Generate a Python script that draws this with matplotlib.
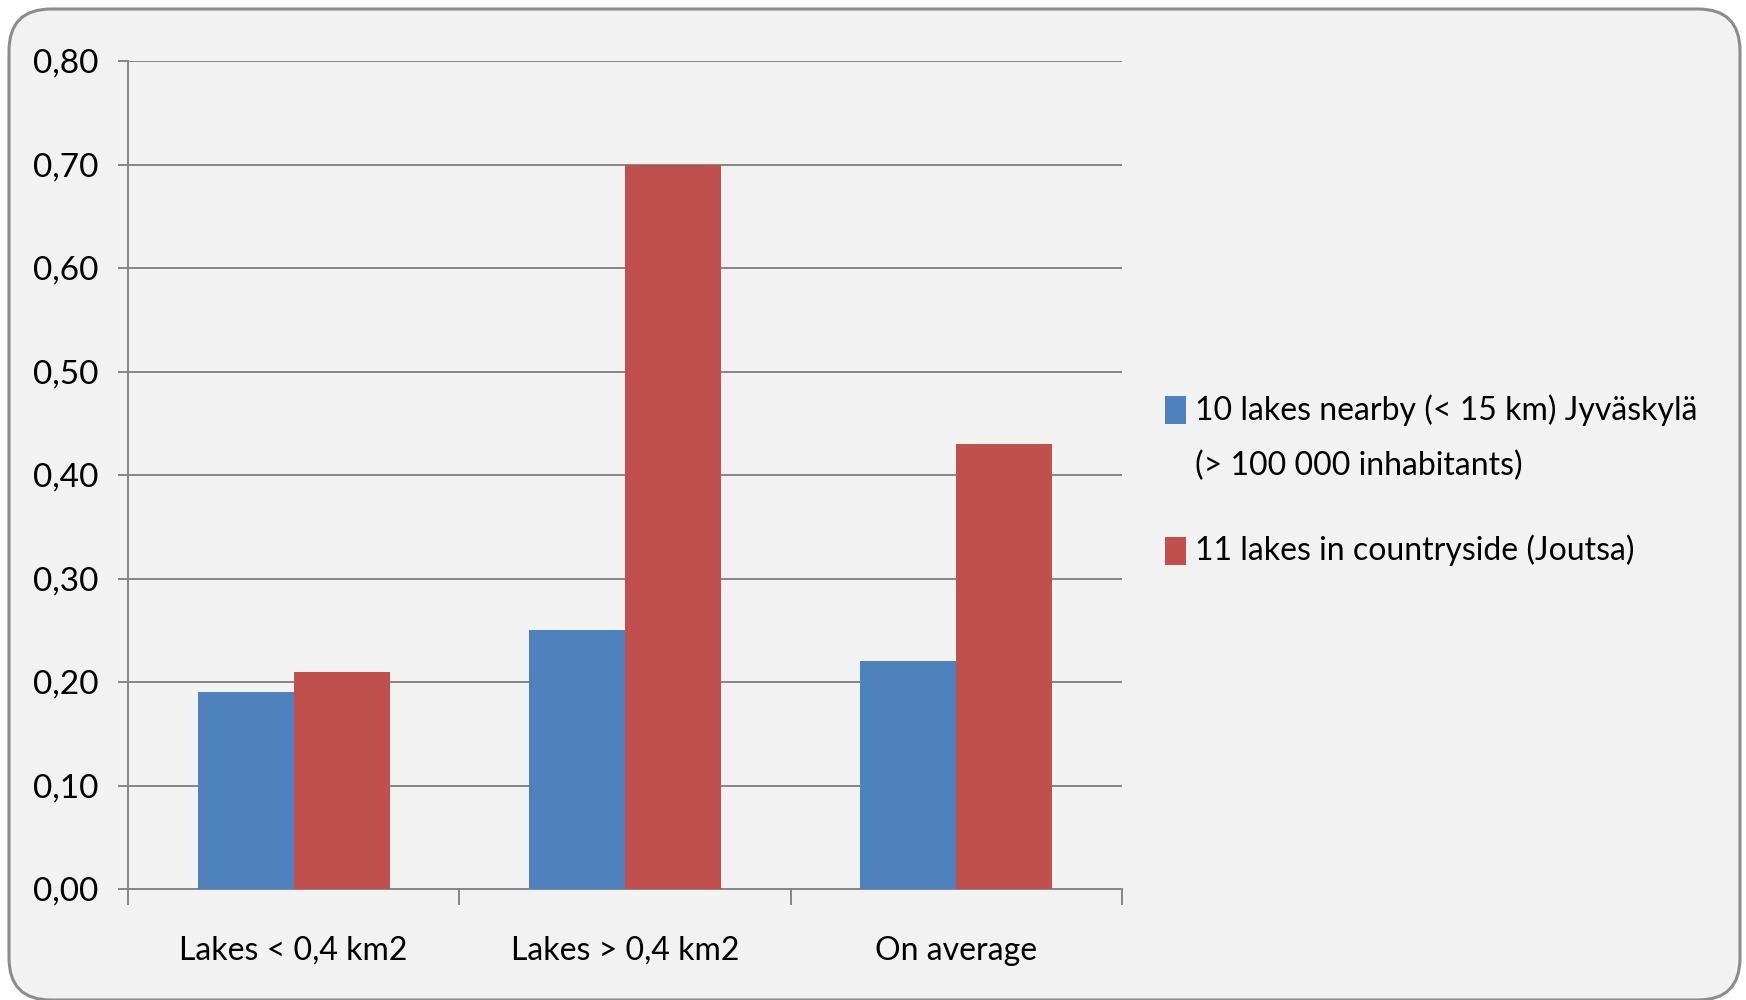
import numpy as np
import matplotlib.pyplot as plt
import matplotlib.patches as mpatches
from matplotlib.transforms import IdentityTransform

plt.rcParams['font.family'] = ['Lato', 'DejaVu Sans']

# data
categories = ['Lakes < 0,4 km2', 'Lakes > 0,4 km2', 'On average']
series_names = ['10 lakes nearby (< 15 km) Jyväskylä\n(> 100 000 inhabitants)',
                '11 lakes in countryside (Joutsa)']
near_city = [0.19, 0.25, 0.22]
countryside = [0.21, 0.70, 0.43]
y_ticks = [0.0, 0.1, 0.2, 0.3, 0.4, 0.5, 0.6, 0.7, 0.8]

blue = '#4f81bd'
red = '#c0504d'
grid_col = '#868686'
fs = 23

fig = plt.figure(figsize=(17.46, 10), dpi=100)
fig.patch.set_facecolor('white')

# rounded frame round the whole chart (pixel coords), bottom edge runs off the image
frame = mpatches.FancyBboxPatch((9, 0), 1731, 991,
                                boxstyle='round,pad=0,rounding_size=42',
                                transform=IdentityTransform(),
                                facecolor='#f2f2f2', edgecolor='#8c8c8c',
                                linewidth=2.2, zorder=-5)
fig.patches.append(frame)

ax = fig.add_axes([0.0733, 0.111, 0.5693, 0.828])
ax.set_facecolor('none')

x = np.arange(len(categories))
w = 0.29
ax.bar(x - w / 2, near_city, w, color=blue, zorder=3)
ax.bar(x + w / 2, countryside, w, color=red, zorder=3)

ax.set_xlim(-0.5, 2.5)
ax.set_ylim(0, 0.8)
ax.set_yticks(y_ticks)
ax.set_yticklabels([f'{v:.2f}'.replace('.', ',') for v in y_ticks])
ax.set_xticks(x)
ax.set_xticklabels(categories)
ax.set_xticks([-0.5, 0.5, 1.5, 2.5], minor=True)

ax.grid(axis='y', color=grid_col, linewidth=1.4, zorder=1)
ax.set_axisbelow(True)
for s in ['top', 'right']:
    ax.spines[s].set_visible(False)
for s in ['left', 'bottom']:
    ax.spines[s].set_color(grid_col)
    ax.spines[s].set_linewidth(1.4)

ax.tick_params(axis='y', length=7.5, width=1.4, color=grid_col, labelsize=24, pad=14)
ax.tick_params(axis='x', which='major', bottom=False, labelsize=fs, pad=30)
ax.tick_params(axis='x', which='minor', length=11.5, width=1.4, color=grid_col)

# legend, drawn by hand so the square sits at the first line of a two-line label
colors = [blue, red]
sq_top = [0.604, 0.463]
txt_y = [0.562, 0.450]
for c, top, ty, name in zip(colors, sq_top, txt_y, series_names):
    fig.patches.append(mpatches.Rectangle((0.6675, top - 0.028), 0.0115, 0.028,
                                          transform=fig.transFigure,
                                          facecolor=c, edgecolor='none'))
    fig.text(0.6845, ty, name, fontsize=fs, va='center', ha='left',
             linespacing=2.0)

fig.savefig('out.png', dpi=100)
